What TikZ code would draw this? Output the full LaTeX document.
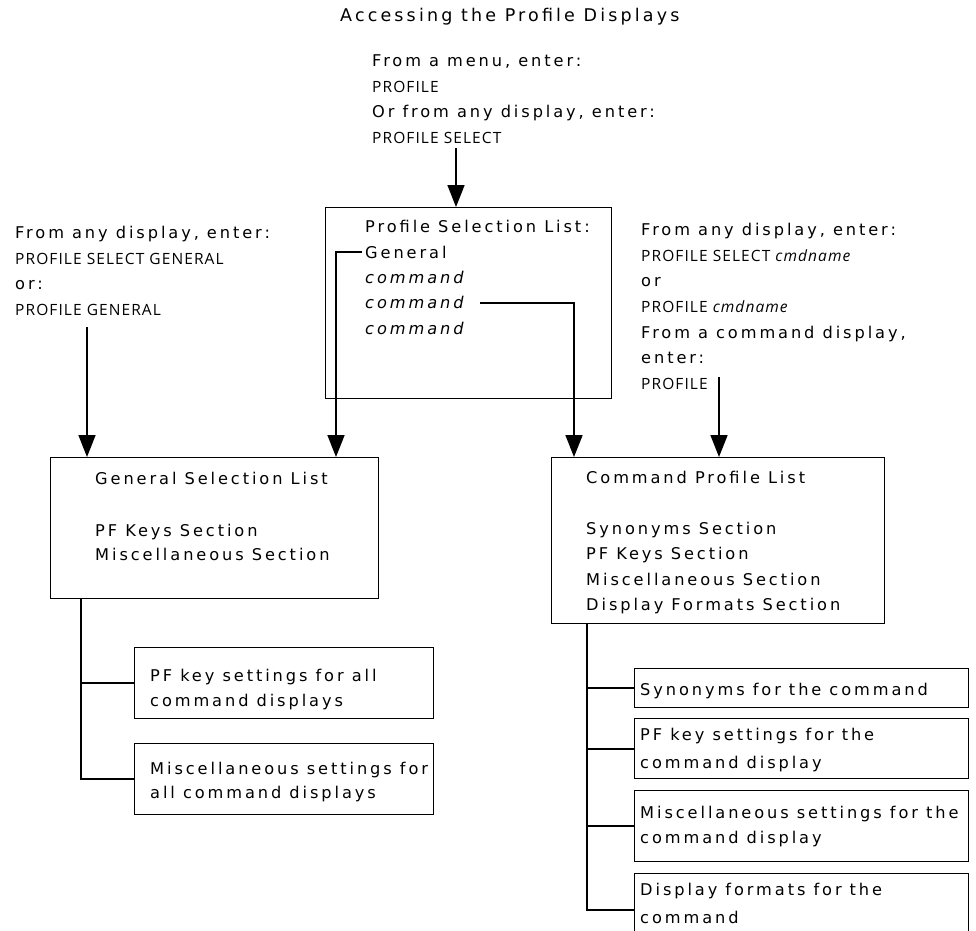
\documentclass[tikz,border=0pt]{standalone}
\usepackage{fontspec}
\usetikzlibrary{arrows.meta}
\newfontfamily\bodyf{DejaVu Sans}[LetterSpace=18]
\newfontfamily\cmdf{Open Sans}[LetterSpace=7]
\tikzset{
  body/.style={anchor=base west, inner sep=0pt, font=\bodyf\fontsize{16.2}{20}\selectfont},
  ttl/.style={anchor=base west, inner sep=0pt, font=\bodyf\fontsize{17.5}{22}\selectfont},
  cmd/.style={anchor=base west, inner sep=0pt, font=\cmdf\fontsize{15.5}{19}\selectfont},
  box/.style={draw, line width=1.3pt, anchor=north west, inner sep=0pt},
  conn/.style={line width=1.7pt},
  arr/.style={line width=1.7pt, -{Triangle[width=17pt,length=22pt]}},
}
\begin{document}
\begin{tikzpicture}[x=1pt,y=-1pt]
\clip (0,0) rectangle (976,930);
\fill[white] (0,0) rectangle (976,930);

% title
\node[ttl] (title) at (340,21.5) {Accessing the Profile Displays};

% top block
\node[body] (t1) at (372,66) {From a menu, enter:};
\node[cmd]  (t2) at (372,92) {PROFILE};
\node[body] (t3) at (372,117) {Or from any display, enter:};
\node[cmd]  (t4) at (372,143) {PROFILE SELECT};

% left block
\node[body] (l1) at (15,238) {From any display, enter:};
\node[cmd]  (l2) at (15,264) {PROFILE SELECT GENERAL};
\node[body] (l3) at (15,289) {or:};
\node[cmd]  (l4) at (15,315) {PROFILE GENERAL};

% right block
\node[body] (r1) at (641,235) {From any display, enter:};
\node[cmd]  (r2) at (641,261) {PROFILE SELECT \textit{cmdname}};
\node[body] (r3) at (641,286) {or};
\node[cmd]  (r4) at (641,312) {PROFILE \textit{cmdname}};
\node[body] (r5) at (641,338) {From a command display,};
\node[body] (r6) at (641,363) {enter:};
\node[cmd]  (r7) at (641,389) {PROFILE};

% boxes
\node[box, minimum width=286pt, minimum height=191pt] (psl) at (325,207) {};
\node[box, minimum width=328pt, minimum height=141pt] (gsl) at (50,457) {};
\node[box, minimum width=333pt, minimum height=166pt] (cpl) at (551,457) {};
\node[box, minimum width=299pt, minimum height=71pt] (g1) at (134,647) {};
\node[box, minimum width=299pt, minimum height=71pt] (g2) at (134,743) {};
\node[box, minimum width=334pt, minimum height=39pt] (c1) at (634,668) {};
\node[box, minimum width=334pt, minimum height=60pt] (c2) at (634,718) {};
\node[box, minimum width=334pt, minimum height=71pt] (c3) at (634,790) {};
\node[box, minimum width=334pt, minimum height=72pt] (c4) at (634,873) {};

% profile selection list text
\node[body] (p1) at (365,232) {Profile Selection List:};
\node[body] (p2) at (365,258) {General};
\node[body] (p3) at (365,283) {\textit{command}};
\node[body] (p4) at (365,308) {\textit{command}};
\node[body] (p5) at (365,334) {\textit{command}};

% general selection list text
\node[body] (g0a) at (95,484) {General Selection List};
\node[body] (g0b) at (95,536) {PF Keys Section};
\node[body] (g0c) at (95,560) {Miscellaneous Section};

% command profile list text
\node[body] (c0a) at (586,483) {Command Profile List};
\node[body] (c0b) at (586,534) {Synonyms Section};
\node[body] (c0c) at (586,559) {PF Keys Section};
\node[body] (c0d) at (586,585) {Miscellaneous Section};
\node[body] (c0e) at (586,610) {Display Formats Section};

% left sub boxes text
\node[body] (g1a) at (150,681) {PF key settings for all};
\node[body] (g1b) at (150,706) {command displays};
\node[body] (g2a) at (150,774) {Miscellaneous settings for};
\node[body] (g2b) at (150,798) {all command displays};

% right sub boxes text
\node[body] (c1a) at (640,695) {Synonyms for the command};
\node[body] (c2a) at (640,740) {PF key settings for the};
\node[body] (c2b) at (640,768) {command display};
\node[body] (c3a) at (640,818) {Miscellaneous settings for the};
\node[body] (c3b) at (640,843) {command display};
\node[body] (c4a) at (640,895) {Display formats for the};
\node[body] (c4b) at (640,923) {command};

% arrows
\coordinate (ta) at (456,148);
\draw[arr] (ta) -- (ta |- psl.north);
\coordinate (la) at (87,327);
\draw[arr] (la) -- (la |- gsl.north);
\coordinate (ra) at (719,377);
\draw[arr] (ra) -- (ra |- cpl.north);
\coordinate (ga) at (362,252);
\coordinate (gb) at (336,252);
\draw[arr] (ga) -- (gb) -- (gb |- gsl.north);
\coordinate (ca) at (480,303);
\coordinate (cb) at (574,303);
\draw[arr] (ca) -- (cb) -- (cb |- cpl.north);

% tree connectors
\coordinate (gv) at (81,0);
\draw[conn] (gv |- gsl.south) -- (gv |- g2.west) -- (g2.west);
\draw[conn] (gv |- g1.west) -- (g1.west);
\coordinate (cv) at (587,0);
\draw[conn] (cv |- cpl.south) -- (cv |- c4.west) -- (c4.west);
\draw[conn] (cv |- c1.west) -- (c1.west);
\draw[conn] (cv |- c2.west) -- (c2.west);
\draw[conn] (cv |- c3.west) -- (c3.west);
\end{tikzpicture}
\end{document}
